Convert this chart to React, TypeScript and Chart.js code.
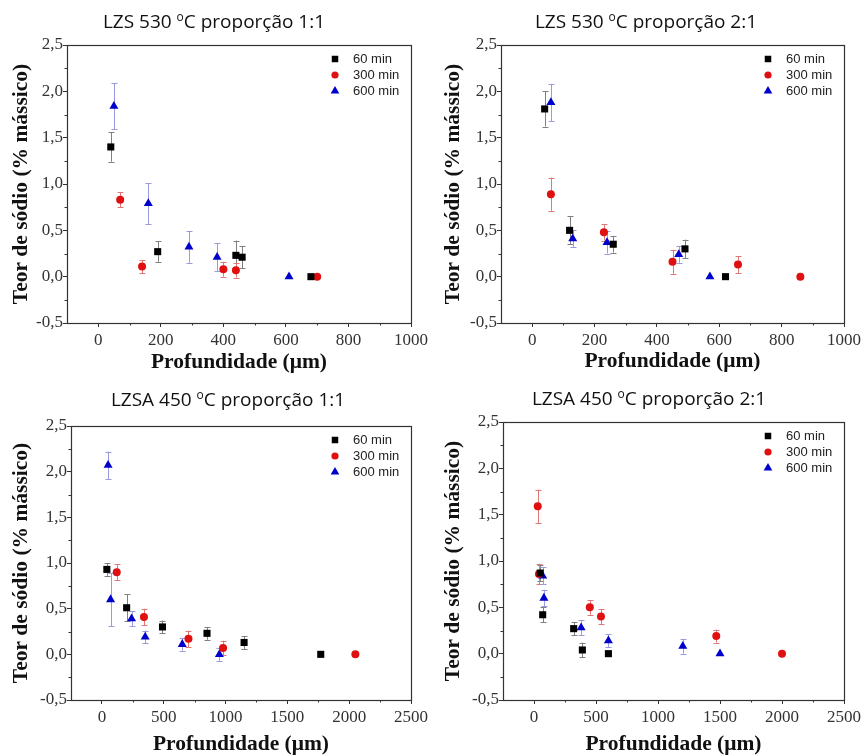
import React, { useEffect, useRef } from "react";
import { Chart, registerables } from "chart.js";
import { drawPoint } from "chart.js/helpers";

Chart.register(...registerables);

// ---------- Data ----------
const seriesLabels = ["60 min", "300 min", "600 min"];

const yTickValues = [-0.5, 0, 0.5, 1, 1.5, 2, 2.5];
const yTickLabels = ["-0,5", "0,0", "0,5", "1,0", "1,5", "2,0", "2,5"];
const xTickValuesA = [0, 200, 400, 600, 800, 1000];
const xTickLabelsA = ["0", "200", "400", "600", "800", "1000"];
const xTickValuesB = [0, 500, 1000, 1500, 2000, 2500];
const xTickLabelsB = ["0", "500", "1000", "1500", "2000", "2500"];

// Panel 1: LZS 530 ºC proporção 1:1
const p1_x60 = [40, 190, 440, 460, 680];
const p1_y60 = [1.4, 0.27, 0.23, 0.21, 0];
const p1_e60 = [0.16, 0.11, 0.16, 0.12, 0];
const p1_x300 = [70, 140, 400, 440, 700];
const p1_y300 = [0.83, 0.11, 0.08, 0.07, 0];
const p1_e300 = [0.08, 0.07, 0.08, 0.08, 0];
const p1_x600 = [50, 160, 290, 380, 610];
const p1_y600 = [1.84, 0.79, 0.32, 0.21, 0];
const p1_e600 = [0.25, 0.22, 0.17, 0.15, 0];

// Panel 2: LZS 530 ºC proporção 2:1
const p2_x60 = [40, 120, 260, 490, 620];
const p2_y60 = [1.81, 0.5, 0.35, 0.3, 0];
const p2_e60 = [0.19, 0.15, 0.09, 0.1, 0];
const p2_x300 = [60, 230, 450, 660, 860];
const p2_y300 = [0.89, 0.48, 0.16, 0.13, 0];
const p2_e300 = [0.18, 0.09, 0.13, 0.09, 0];
const p2_x600 = [60, 130, 240, 470, 570];
const p2_y600 = [1.88, 0.41, 0.37, 0.24, 0];
const p2_e600 = [0.2, 0.09, 0.12, 0.09, 0];

// Panel 3: LZSA 450 ºC proporção 1:1
const p3_x60 = [40, 200, 490, 850, 1150, 1770];
const p3_y60 = [0.93, 0.51, 0.3, 0.23, 0.13, 0];
const p3_e60 = [0.07, 0.15, 0.07, 0.07, 0.07, 0];
const p3_x300 = [120, 340, 700, 980, 2050];
const p3_y300 = [0.9, 0.41, 0.17, 0.07, 0];
const p3_e300 = [0.09, 0.09, 0.09, 0.08, 0];
const p3_x600 = [50, 70, 240, 350, 650, 950];
const p3_y600 = [2.07, 0.6, 0.39, 0.19, 0.11, 0.0];
const p3_e600 = [0.15, 0.29, 0.08, 0.07, 0.07, 0.07];

// Panel 4: LZSA 450 ºC proporção 2:1
const p4_x60 = [50, 70, 320, 390, 600];
const p4_y60 = [0.87, 0.42, 0.27, 0.04, 0];
const p4_e60 = [0.09, 0.08, 0.07, 0.08, 0];
const p4_x300 = [30, 40, 450, 540, 1470, 2000];
const p4_y300 = [1.59, 0.86, 0.5, 0.4, 0.19, 0];
const p4_e300 = [0.18, 0.11, 0.08, 0.08, 0.07, 0];
const p4_x600 = [70, 80, 380, 600, 1200, 1500];
const p4_y600 = [0.84, 0.6, 0.28, 0.14, 0.08, 0];
const p4_e600 = [0.09, 0.09, 0.08, 0.07, 0.08, 0];

// ---------- Styles ----------
const W = 432;
const H = 378;
const markerColors = ["#000000", "#e01010", "#0000cc"];
const errColors = ["#808080", "#e07878", "#9a9ae0"];
const pointStyles = ["rect", "circle", "triangle"];
const pointRadii = [5, 4, 5.2];
const legendRadii = [4.6, 3.6, 5];
const serif = "'Liberation Serif', 'Times New Roman', serif";
const sans = "'Liberation Sans', Arial, sans-serif";
const titleFont = "'Open Sans', 'Noto Sans', sans-serif";

type Panel = {
  left: number;
  top: number;
  L: number;
  R: number;
  T: number;
  B: number;
  titleMain: string;
  titleRest: string;
  titleCx: number;
  titleCy: number;
  xTitleCy: number;
  xMin: number;
  xMax: number;
  xTicks: number[];
  xLabels: string[];
  xs: number[][];
  ys: number[][];
  es: number[][];
};

const panels: Panel[] = [
  {
    left: 0, top: 0, L: 67, R: 411, T: 45, B: 323,
    titleMain: "LZS 530 ", titleRest: "C proporção 1:1", titleCx: 214, titleCy: 23, xTitleCy: 362,
    xMin: -100, xMax: 1000, xTicks: xTickValuesA, xLabels: xTickLabelsA,
    xs: [p1_x60, p1_x300, p1_x600], ys: [p1_y60, p1_y300, p1_y600], es: [p1_e60, p1_e300, p1_e600],
  },
  {
    left: 432, top: 0, L: 69, R: 413, T: 45, B: 323,
    titleMain: "LZS 530 ", titleRest: "C proporção 2:1", titleCx: 214, titleCy: 23, xTitleCy: 361,
    xMin: -100, xMax: 1000, xTicks: xTickValuesA, xLabels: xTickLabelsA,
    xs: [p2_x60, p2_x300, p2_x600], ys: [p2_y60, p2_y300, p2_y600], es: [p2_e60, p2_e300, p2_e600],
  },
  {
    left: 0, top: 378, L: 71, R: 411, T: 48, B: 322,
    titleMain: "LZSA 450 ", titleRest: "C proporção 1:1", titleCx: 228, titleCy: 23, xTitleCy: 366,
    xMin: -250, xMax: 2500, xTicks: xTickValuesB, xLabels: xTickLabelsB,
    xs: [p3_x60, p3_x300, p3_x600], ys: [p3_y60, p3_y300, p3_y600], es: [p3_e60, p3_e300, p3_e600],
  },
  {
    left: 432, top: 378, L: 71, R: 413, T: 44, B: 322,
    titleMain: "LZSA 450 ", titleRest: "C proporção 2:1", titleCx: 217, titleCy: 22, xTitleCy: 366,
    xMin: -250, xMax: 2500, xTicks: xTickValuesB, xLabels: xTickLabelsB,
    xs: [p4_x60, p4_x300, p4_x600], ys: [p4_y60, p4_y300, p4_y600], es: [p4_e60, p4_e300, p4_e600],
  },
];

function makePlugin(p: Panel) {
  return {
    id: "decor",
    beforeDatasetsDraw(chart: any) {
      const ctx = chart.ctx;
      const xs = chart.scales.x;
      const ys = chart.scales.y;
      ctx.save();
      ctx.lineWidth = 1;
      p.es.forEach((errs, i) => {
        ctx.strokeStyle = errColors[i];
        errs.forEach((e, j) => {
          if (!e) return;
          const px = Math.round(xs.getPixelForValue(p.xs[i][j])) + 0.5;
          const y1 = ys.getPixelForValue(p.ys[i][j] + e);
          const y2 = ys.getPixelForValue(p.ys[i][j] - e);
          ctx.beginPath();
          ctx.moveTo(px, y1);
          ctx.lineTo(px, y2);
          ctx.moveTo(px - 3, Math.round(y1) + 0.5);
          ctx.lineTo(px + 3, Math.round(y1) + 0.5);
          ctx.moveTo(px - 3, Math.round(y2) + 0.5);
          ctx.lineTo(px + 3, Math.round(y2) + 0.5);
          ctx.stroke();
        });
      });
      ctx.restore();
    },
    afterDraw(chart: any) {
      const ctx = chart.ctx;
      const a = chart.chartArea;
      const xs = chart.scales.x;
      const ys = chart.scales.y;
      ctx.save();
      // frame
      ctx.strokeStyle = "#333";
      ctx.lineWidth = 1.2;
      ctx.strokeRect(Math.round(a.left) + 0.5, Math.round(a.top) + 0.5, Math.round(a.right - a.left), Math.round(a.bottom - a.top));
      // minor ticks
      ctx.lineWidth = 1;
      ctx.beginPath();
      for (let k = 0; k < p.xTicks.length - 1; k++) {
        const v = (p.xTicks[k] + p.xTicks[k + 1]) / 2;
        const px = Math.round(xs.getPixelForValue(v)) + 0.5;
        ctx.moveTo(px, a.bottom);
        ctx.lineTo(px, a.bottom + 2.5);
      }
      for (let k = 0; k < yTickValues.length - 1; k++) {
        const v = (yTickValues[k] + yTickValues[k + 1]) / 2;
        const py = Math.round(ys.getPixelForValue(v)) + 0.5;
        ctx.moveTo(a.left, py);
        ctx.lineTo(a.left - 2.5, py);
      }
      ctx.stroke();
      // title with superscript o
      const mainF = `19px ${titleFont}`;
      const supF = `12px ${titleFont}`;
      ctx.fillStyle = "#111";
      ctx.textBaseline = "middle";
      ctx.textAlign = "left";
      ctx.font = mainF;
      const w1 = ctx.measureText(p.titleMain).width;
      const w3 = ctx.measureText(p.titleRest).width;
      ctx.font = supF;
      const w2 = ctx.measureText("o").width;
      const x0 = p.titleCx - (w1 + w2 + w3) / 2;
      ctx.font = mainF;
      ctx.fillText(p.titleMain, x0, p.titleCy);
      ctx.font = supF;
      ctx.fillText("o", x0 + w1, p.titleCy - 5);
      ctx.font = mainF;
      ctx.fillText(p.titleRest, x0 + w1 + w2, p.titleCy);
      // legend
      ctx.font = `13px ${sans}`;
      seriesLabels.forEach((lab, i) => {
        const ly = a.top + 14 + 16 * i;
        ctx.fillStyle = markerColors[i];
        ctx.strokeStyle = markerColors[i];
        drawPoint(ctx, { pointStyle: pointStyles[i], radius: legendRadii[i], rotation: 0, borderWidth: 0 } as any, a.right - 76, ly);
        ctx.fillStyle = "#222";
        ctx.fillText(lab, a.right - 58, ly);
      });
      ctx.restore();
    },
  };
}

function makeConfig(p: Panel): any {
  const datasets = seriesLabels.map((lab, i) => ({
    label: lab,
    data: p.xs[i].map((xv, j) => ({ x: xv, y: p.ys[i][j] })),
    pointStyle: pointStyles[i],
    pointRadius: pointRadii[i],
    pointHoverRadius: pointRadii[i],
    backgroundColor: markerColors[i],
    borderColor: markerColors[i],
    borderWidth: 0,
    showLine: false,
  }));
  return {
    type: "scatter",
    data: { datasets },
    options: {
      animation: false,
      responsive: false,
      events: [],
      layout: { padding: { top: p.T, right: W - p.R, bottom: 0, left: 0 } },
      plugins: { legend: { display: false }, tooltip: { enabled: false }, title: { display: false } },
      scales: {
        x: {
          type: "linear",
          min: p.xMin,
          max: p.xMax,
          afterBuildTicks: (s: any) => {
            s.ticks = p.xTicks.map((v) => ({ value: v }));
          },
          afterFit: (s: any) => {
            s.height = H - p.B;
          },
          ticks: {
            autoSkip: false,
            maxRotation: 0,
            padding: 3,
            color: "#333",
            font: { family: serif, size: 17 },
            callback: (_v: any, i: number) => p.xLabels[i],
          },
          grid: { display: true, drawOnChartArea: false, drawTicks: true, tickLength: 4, tickColor: "#333", tickWidth: 1 },
          border: { display: false },
          title: {
            display: true,
            text: "Profundidade (μm)",
            color: "#111",
            font: { family: serif, size: 21.5, weight: "bold", lineHeight: 1 },
            padding: { top: 0, bottom: H - p.xTitleCy - 10.75 },
          },
        },
        y: {
          type: "linear",
          min: -0.5,
          max: 2.5,
          afterBuildTicks: (s: any) => {
            s.ticks = yTickValues.map((v) => ({ value: v }));
          },
          afterFit: (s: any) => {
            s.width = p.L;
          },
          ticks: {
            autoSkip: false,
            padding: 0,
            color: "#333",
            font: { family: serif, size: 17 },
            callback: (_v: any, i: number) => yTickLabels[i],
          },
          grid: { display: true, drawOnChartArea: false, drawTicks: true, tickLength: 4, tickColor: "#333", tickWidth: 1 },
          border: { display: false },
          title: {
            display: true,
            text: "Teor de sódio (% mássico)",
            color: "#111",
            font: { family: serif, size: 21.5, weight: "bold", lineHeight: 1 },
            padding: { top: 11, bottom: 0 },
          },
        },
      },
    },
    plugins: [makePlugin(p)],
  };
}

function PanelChart({ p }: { p: Panel }) {
  const ref = useRef<HTMLCanvasElement | null>(null);
  useEffect(() => {
    if (!ref.current) return;
    const chart = new Chart(ref.current, makeConfig(p));
    return () => chart.destroy();
  }, [p]);
  return (
    <div style={{ position: "absolute", left: p.left, top: p.top, width: W, height: H }}>
      <canvas ref={ref} width={W} height={H} style={{ width: W, height: H, display: "block" }} />
    </div>
  );
}

export default function App() {
  return (
    <div style={{ position: "fixed", left: 0, top: 0, width: 864, height: 756, background: "#fff" }}>
      {panels.map((p, i) => (
        <PanelChart key={i} p={p} />
      ))}
    </div>
  );
}
